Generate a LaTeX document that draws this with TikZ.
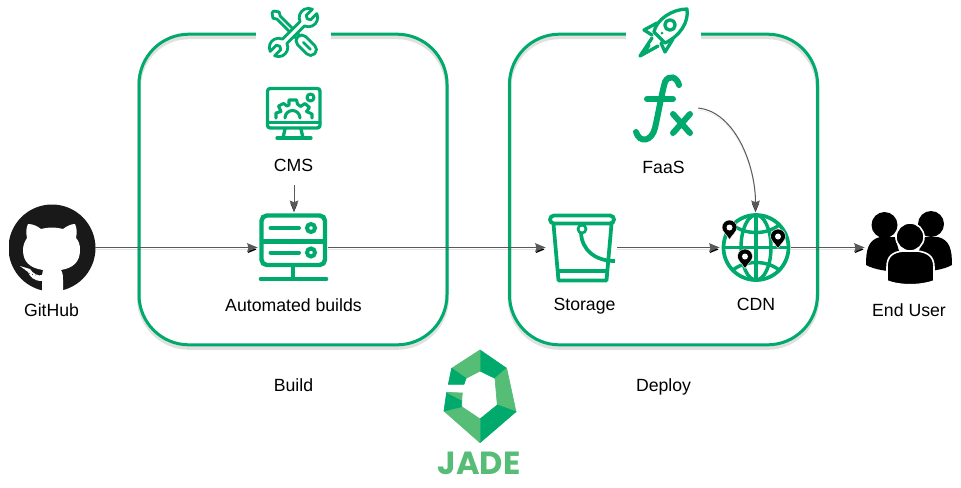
\documentclass[tikz,border=0pt]{standalone}
\usepackage{fontspec}
\setmainfont{Liberation Sans}
\newfontfamily\jadefont{Poppins}
\usetikzlibrary{arrows.meta, positioning}
\definecolor{jadegreen}{RGB}{0, 170, 108}
\definecolor{jadelight}{RGB}{85, 189, 118}
\definecolor{linegray}{RGB}{89, 89, 89}
\newcommand{\pinmark}[2]{%
  \fill[black, draw=white, line width=0.3pt] (#1,#2+12) .. controls (#1-3,#2+7) and (#1-7.5,#2+4) .. (#1-7.5,#2) arc[start angle=180, end angle=360, radius=7.5] .. controls (#1+7.5,#2+4) and (#1+3,#2+7) .. cycle;
  \fill[white] (#1,#2) circle (3);
}
\begin{document}
\begin{tikzpicture}[
    x=0.75pt, y=-0.75pt,
    framebox/.style={rectangle, draw=jadegreen, rounded corners=37.5pt, line width=2.25pt, minimum width=231pt, minimum height=233pt},
    frameshade/.style={rectangle, draw=black, draw opacity=0.12, rounded corners=37.5pt, line width=3pt, minimum width=231pt, minimum height=233pt},
    iconbox/.style={rectangle, inner sep=0pt, minimum width=#1*0.75pt, minimum height=54pt},
    label/.style={font=\fontsize{13.25}{15}\selectfont, text=black, inner sep=0pt, text height=10pt, text depth=2.5pt},
    arrow/.style={-{Stealth[length=8pt, width=6.5pt, inset=1.2pt]}, draw=linegray, line width=0.75pt,
      preaction={draw=black, draw opacity=0.1, transform canvas={yshift=-1.5pt}}},
    icon/.style={draw=jadegreen, line width=2.5pt, line cap=round, line join=round},
    thinicon/.style={draw=jadegreen, line width=2.1pt, line cap=round, line join=round}
]
\useasboundingbox (0,0) rectangle (961,487);
\fill[white] (0,0) rectangle (961,487);

% frames
\node[frameshade] (buildshade) at (293,192.5) {};
\node[frameshade] (deployshade) at (663.5,192.5) {};
\node[framebox] (buildframe) at (293,189.5) {};
\node[framebox] (deployframe) at (663.5,189.5) {};
\fill[white] (256,0) rectangle (331,62);
\fill[white] (626,0) rectangle (701,62);

% icon places
\node[iconbox=86] (github) at (52,247.5) {};
\node[iconbox=70] (server) at (293,247.5) {};
\node[iconbox=71] (storage) at (581.5,247.5) {};
\node[iconbox=71, minimum height=54pt] (cdn) at (755.5,247.5) {};
\node[iconbox=88] (users) at (909,247.5) {};
\node[iconbox=64] (faas) at (666,108) {};
\coordinate (cmsout) at (294,185);

% github
\begin{scope}
\clip (9,200) rectangle (100,295);
\fill[black!90] (52,248) circle (43.5);
\fill[white] (42,292) -- (42,281) .. controls (34,281) and (30,277) .. (28,272) -- (20,266) -- (30,269) .. controls (33,274) and (38,276) .. (42,275) -- (43,270) .. controls (30,268) and (23,262) .. (23,250) .. controls (23,245) and (25,241) .. (27,238) .. controls (26,233) and (26,228) .. (28,224) .. controls (33,224) and (37,226) .. (41,229) .. controls (48,227) and (56,227) .. (63,229) .. controls (67,226) and (71,224) .. (75,224) .. controls (77,228) and (77,233) .. (76,238) .. controls (79,241) and (80,245) .. (80,250) .. controls (80,262) and (73,268) .. (61,270) .. controls (63,273) and (63,277) .. (63,280) -- (63,292) -- cycle;
\draw[black!90, line width=0.5pt, dotted] (24,269) .. controls (28,274) and (34,276) .. (42,275);
\end{scope}

% tools
\begin{scope}[shift={(293.5,32.5)}, rotate=-45, scale=0.88]
\draw[thinicon, fill=white] (-33,-1.5) -- (-28,-5) -- (-24,-2.5) -- (8,-2.5) -- (8,2.5) -- (-24,2.5) -- (-28,5) -- (-33,1.5) -- cycle;
\draw[thinicon, fill=white, rounded corners=4pt] (7,-6.5) rectangle (34,6.5);
\draw[thinicon] (16,0) -- (27,0);
\end{scope}
\begin{scope}[shift={(293.5,32.5)}, rotate=45, scale=0.88]
\draw[thinicon, fill=white] (-14.1,-3.5) -- (14.1,-3.5) arc[start angle=199.5, end angle=340.5, radius=10.5] -- (24,-3.5) -- (22,0) -- (24,3.5) -- (33.9,3.5) arc[start angle=19.5, end angle=160.5, radius=10.5] -- (-14.1,3.5) arc[start angle=19.5, end angle=160.5, radius=10.5] -- (-24,3.5) -- (-22,0) -- (-24,-3.5) -- (-33.9,-3.5) arc[start angle=199.5, end angle=340.5, radius=10.5] -- cycle;
\end{scope}

% monitor
\draw[icon, rounded corners=2pt] (267.5,88.5) rectangle (320,128);
\draw[icon] (267.5,122.5) -- (320,122.5);
\draw[icon] (285,129) -- (283,138);
\draw[icon] (301,129) -- (303,138);
\draw[icon] (277,138) -- (311,138);
\draw[icon, line width=2.3pt] (310.5,97.5) circle (3.5);
\draw[icon, line width=2.3pt] (276,118) -- (276,113) -- (281,111.5) -- (278.5,106) -- (283.5,103.5) -- (287,106) -- (289,105) -- (289,100) -- (296.5,100) -- (297.5,104) -- (300.5,106.5) -- (305,103.5) -- (309.5,107.5) -- (306.5,111.5) -- (312,114) -- (312,118);
\draw[icon, line width=2.3pt] (285,118) arc[start angle=180, end angle=360, radius=7.5];

% server
\draw[draw=jadegreen, line width=3.3pt, rounded corners=4pt] (261.5,215.5) rectangle (325,265);
\draw[draw=jadegreen, line width=3.3pt] (261.5,241.5) -- (325,241.5);
\draw[draw=jadegreen, line width=3pt, line cap=round] (270.5,228) -- (299,228);
\draw[draw=jadegreen, line width=3pt, line cap=round] (270.5,252.5) -- (299,252.5);
\draw[draw=jadegreen, line width=3pt] (311,228) circle (4);
\draw[draw=jadegreen, line width=3pt] (311,252.5) circle (4);
\draw[draw=jadegreen, line width=3.3pt] (293,266) -- (293,279);
\draw[draw=jadegreen, line width=3.5pt, line cap=round] (261,279) -- (326,279);

% rocket
\draw[icon] (687,9) .. controls (672,9) and (656,20) .. (654,32) -- (665,43) .. controls (680,36) and (689,22) .. cycle;
\draw[icon] (670,25) circle (5.2);
\fill[jadegreen] (662,33) circle (1.5);
\draw[icon] (657,23) -- (644,30) -- (652,35);
\draw[icon] (673,39) -- (665,52) -- (661,43);
\draw[icon] (652,38) -- (640,56) -- (658,46);
\draw[icon] (649,45) -- (646,50);

% fx
\draw[draw=jadegreen, line width=4.5pt, line cap=round] (679,85) .. controls (677,77) and (669,74) .. (665,82) .. controls (662,92) and (658,115) .. (655,128) .. controls (652,141) and (640,144) .. (636,132);
\draw[draw=jadegreen, line width=4.5pt, line cap=round] (647,99) -- (673,99);
\draw[draw=jadegreen, line width=4.5pt, line cap=round] (673,114) -- (690,133);
\draw[draw=jadegreen, line width=4.5pt, line cap=round] (690,114) -- (673,133);

% bucket
\draw[draw=jadegreen, line width=2.8pt, rounded corners=3pt] (550,215.5) rectangle (614,223.5);
\draw[draw=jadegreen, line width=2.8pt, line join=round] (553.5,224) -- (558.5,280.5) -- (606.5,280.5) -- (611.5,224);
\draw[draw=jadegreen, line width=2.8pt] (557,271) -- (608,271);
\draw[draw=jadegreen, line width=2pt] (582,229) circle (4);
\draw[draw=jadegreen, line width=2.8pt] (581,233) .. controls (582,250) and (595,261) .. (615,261);

% globe
\draw[draw=jadegreen, line width=2.8pt] (756,247.5) circle (32.5);
\draw[draw=jadegreen, line width=2.6pt] (756,247.5) ellipse (15 and 32.5);
\draw[draw=jadegreen, line width=2.6pt] (756,215) -- (756,280);
\draw[draw=jadegreen, line width=2.6pt] (723.5,247.5) -- (788.5,247.5);
\draw[draw=jadegreen, line width=2.6pt] (733,225) .. controls (745,235) and (767,235) .. (779,225);
\draw[draw=jadegreen, line width=2.6pt] (733,270) .. controls (745,260) and (767,260) .. (779,270);
\pinmark{729.5}{227.5}
\pinmark{778}{236.5}
\pinmark{745}{256.5}

% users
\fill[black] (866,265) .. controls (866,250) and (868,240) .. (880,237) -- (895,237) -- (905,272) .. controls (890,272) and (875,270) .. cycle;
\fill[black] (952,265) .. controls (952,250) and (950,240) .. (938,237) -- (923,237) -- (913,272) .. controls (928,272) and (943,270) .. cycle;
\fill[black] (884.5,225) circle (13);
\fill[black] (931,224) circle (13);
\draw[fill=black, draw=white, line width=1.2pt] (910,237) circle (14);
\draw[fill=black, draw=white, line width=1.2pt] (887,281) -- (887,267) .. controls (887,256) and (893,252) .. (903,251) -- (917,251) .. controls (927,252) and (934,256) .. (934,267) -- (934,281) .. controls (920,286) and (900,286) .. cycle;

% logo
\begin{scope}[shift={(440,345)}, x=0.25pt, y=-0.25pt, line join=round, line width=0.5pt]
\filldraw[jadegreen] (120,15) -- (200,70) -- (165,100) -- (120,78) -- cycle;
\filldraw[jadelight] (200,70) -- (228,200) -- (172,180) -- (165,100) -- cycle;
\filldraw[jadegreen] (228,200) -- (120,293) -- (120,222) -- (172,180) -- cycle;
\filldraw[jadelight] (12,198) -- (120,293) -- (120,222) -- (65,185) -- cycle;
\filldraw[jadegreen] (20,142) -- (65,165) -- (65,185) -- (12,198) -- cycle;
\filldraw[jadelight] (20,142) -- (67,144) -- (65,165) -- cycle;
\filldraw[jadelight] (120,15) -- (120,78) -- (78,100) -- (35,70) -- cycle;
\filldraw[jadegreen] (35,70) -- (78,100) -- (72,118) -- (25,118) -- cycle;
\end{scope}
\node[inner sep=0pt, text=jadelight, font=\jadefont\bfseries\fontsize{24}{26}\selectfont] (jadetext) at (479,463.5) {JADE};

% labels
\node[label] (githublabel) at (51.5,311) {GitHub};
\node[label] (cmslabel) at (293.5,166) {CMS};
\node[label] (serverlabel) at (293.5,306) {Automated builds};
\node[label] (storagelabel) at (584.5,305) {Storage};
\node[label] (faaslabel) at (663.5,168) {FaaS};
\node[label] (cdnlabel) at (756,305) {CDN};
\node[label] (userslabel) at (909,311) {End User};
\node[label] (buildlabel) at (293.5,386) {Build};
\node[label] (deploylabel) at (663.5,386) {Deploy};

% connectors
\draw[arrow] (github.east) -- (server.west);
\draw[arrow] (server.east) -- (storage.west);
\draw[arrow] (storage.east) -- (cdn.west);
\draw[arrow] (cdn.east) -- (users.west);
\draw[arrow] (cmsout) -- (cmsout |- server.north);
\draw[arrow] (faas.east) .. controls (735,112) and (755.5,165) .. (cdn.north);
\end{tikzpicture}
\end{document}
